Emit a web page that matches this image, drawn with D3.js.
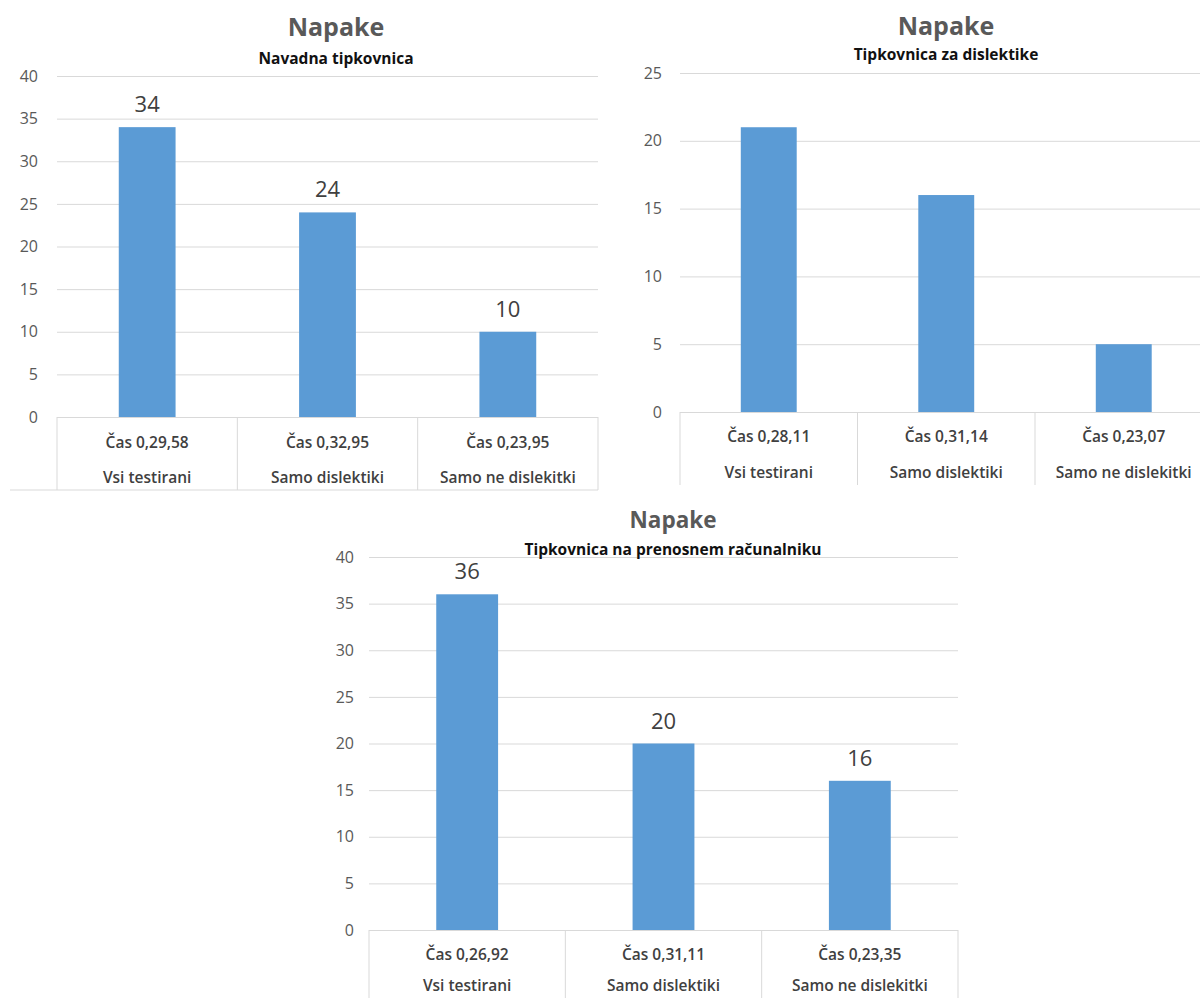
<!DOCTYPE html>
<html>
<head>
<meta charset="utf-8">
<script src="https://cdn.jsdelivr.net/npm/d3@7/dist/d3.min.js"></script>
<style>
  body { margin: 0; background: #ffffff; }
  svg { display: block; font-family: "Open Sans", "Noto Sans", sans-serif; }
</style>
</head>
<body>
<svg id="chart" width="1200" height="998"></svg>
<script>
// ---------- data ----------
const categories = ["Vsi testirani", "Samo dislektiki", "Samo ne dislekitki"];

const titleMain = "Napake";
const subtitleNavadna = "Navadna tipkovnica";
const subtitleDisl = "Tipkovnica za dislektike";
const subtitleLaptop = "Tipkovnica na prenosnem računalniku";

const timesNavadna = ["Čas 0,29,58", "Čas 0,32,95", "Čas 0,23,95"];
const errorsNavadna = [34, 24, 10];

const timesDisl = ["Čas 0,28,11", "Čas 0,31,14", "Čas 0,23,07"];
const errorsDisl = [21, 16, 5];

const timesLaptop = ["Čas 0,26,92", "Čas 0,31,11", "Čas 0,23,35"];
const errorsLaptop = [36, 20, 16];

const ticks40 = [0, 5, 10, 15, 20, 25, 30, 35, 40];
const ticks25 = [0, 5, 10, 15, 20, 25];

// ---------- drawing ----------
const svg = d3.select("#chart");
const FONT = '"Open Sans", "Noto Sans", sans-serif';
const GRID = "#D9D9D9";
const BAR = "#5B9BD5";

function drawChart(o) {
  const g = svg.append("g");
  const x = d3.scaleBand().domain(categories).range([o.left, o.right]).padding(0);
  const y = d3.scaleLinear().domain([0, d3.max(o.ticks)]).range([o.bottom, o.top]);

  // gridlines
  const grid = g.append("g")
    .attr("transform", `translate(${o.left},0)`)
    .call(d3.axisLeft(y).tickValues(o.ticks).tickSize(-(o.right - o.left)).tickFormat(""));
  grid.select(".domain").remove();
  grid.selectAll(".tick line").attr("stroke", GRID).attr("stroke-width", 1);

  // y tick labels
  const ax = g.append("g")
    .attr("transform", `translate(${o.left},0)`)
    .call(d3.axisLeft(y).tickValues(o.ticks).tickSize(0).tickPadding(o.tickPad));
  ax.select(".domain").remove();
  ax.attr("font-family", FONT).attr("font-size", 16);
  ax.selectAll("text").attr("fill", "#595959");

  // bars
  const bw = x.bandwidth() * 0.315;
  g.selectAll("rect.bar")
    .data(o.values)
    .join("rect")
    .attr("class", "bar")
    .attr("x", (d, i) => x(categories[i]) + (x.bandwidth() - bw) / 2)
    .attr("y", d => y(d))
    .attr("width", bw)
    .attr("height", d => y(0) - y(d))
    .attr("fill", BAR);

  // data labels
  if (o.labels) {
    g.selectAll("text.val")
      .data(o.values)
      .join("text")
      .attr("class", "val")
      .attr("x", (d, i) => x(categories[i]) + x.bandwidth() / 2)
      .attr("y", d => y(d) - 15)
      .attr("text-anchor", "middle")
      .attr("font-family", FONT)
      .attr("font-size", 22)
      .attr("fill", "#404040")
      .text(d => d);
  }

  // category box (horizontal axis)
  const bounds = categories.map(c => x(c)).concat([x.range()[1]]);
  g.selectAll("line.div")
    .data(bounds)
    .join("line")
    .attr("class", "div")
    .attr("x1", d => d).attr("x2", d => d)
    .attr("y1", y(0)).attr("y2", o.boxBottom)
    .attr("stroke", GRID).attr("stroke-width", 1);
  if (o.bottomLineFrom !== undefined) {
    g.append("line")
      .attr("x1", o.bottomLineFrom).attr("x2", o.right)
      .attr("y1", o.boxBottom).attr("y2", o.boxBottom)
      .attr("stroke", GRID).attr("stroke-width", 1);
  }

  // category labels, two levels
  g.selectAll("text.time")
    .data(o.times)
    .join("text")
    .attr("class", "time")
    .attr("x", (d, i) => x(categories[i]) + x.bandwidth() / 2)
    .attr("y", o.row1)
    .attr("dy", "0.35em")
    .attr("text-anchor", "middle")
    .attr("font-family", FONT)
    .attr("font-size", 15.5)
    .attr("font-weight", 600)
    .attr("fill", "#404040")
    .text(d => d);
  g.selectAll("text.cat")
    .data(categories)
    .join("text")
    .attr("class", "cat")
    .attr("x", d => x(d) + x.bandwidth() / 2)
    .attr("y", o.row2)
    .attr("dy", "0.35em")
    .attr("text-anchor", "middle")
    .attr("font-family", FONT)
    .attr("font-size", 15.5)
    .attr("font-weight", 600)
    .attr("fill", "#404040")
    .text(d => d);

  // titles
  g.append("text")
    .attr("x", o.titleX).attr("y", o.titleY)
    .attr("text-anchor", "middle")
    .attr("font-family", FONT)
    .attr("font-size", o.titleSize)
    .attr("font-weight", 700)
    .attr("fill", "#595959")
    .text(titleMain);
  g.append("text")
    .attr("x", o.titleX).attr("y", o.subY)
    .attr("text-anchor", "middle")
    .attr("font-family", FONT)
    .attr("font-size", 15.5)
    .attr("font-weight", 700)
    .attr("fill", "#111111")
    .text(o.subtitle);
}

drawChart({
  left: 57, right: 598, bottom: 417, top: 76, ticks: ticks40, tickPad: 19,
  values: errorsNavadna, times: timesNavadna, labels: true,
  row1: 443, row2: 478, boxBottom: 490, bottomLineFrom: 10,
  titleX: 336, titleY: 36, titleSize: 25, subY: 64, subtitle: subtitleNavadna
});

drawChart({
  left: 680, right: 1212.5, bottom: 412, top: 73, ticks: ticks25, tickPad: 18,
  values: errorsDisl, times: timesDisl, labels: false,
  row1: 437, row2: 473, boxBottom: 485,
  titleX: 946, titleY: 35, titleSize: 25, subY: 60, subtitle: subtitleDisl
});

drawChart({
  left: 369, right: 958, bottom: 930, top: 557, ticks: ticks40, tickPad: 15,
  values: errorsLaptop, times: timesLaptop, labels: true,
  row1: 955, row2: 986, boxBottom: 1000,
  titleX: 673, titleY: 528, titleSize: 22.5, subY: 555, subtitle: subtitleLaptop
});
</script>
</body>
</html>
